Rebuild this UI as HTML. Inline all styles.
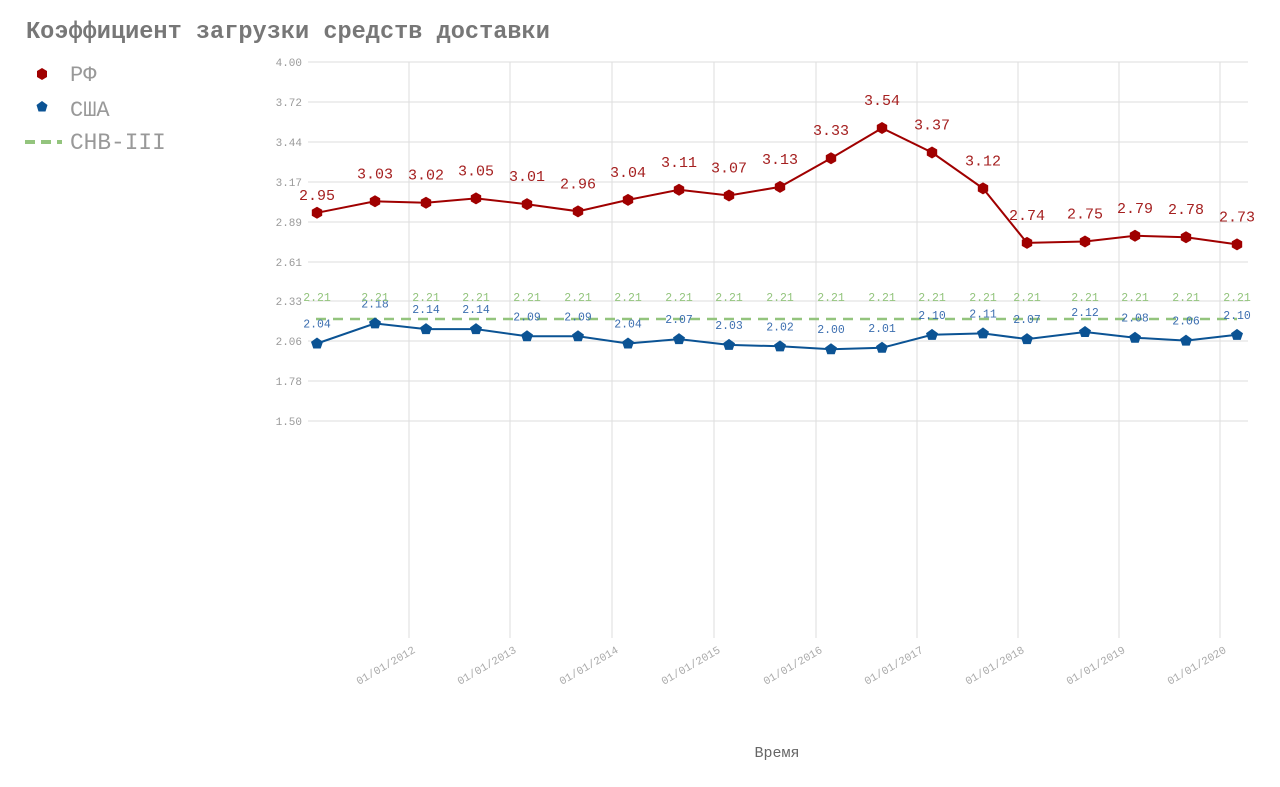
<!DOCTYPE html>
<html><head><meta charset="utf-8"><style>
html,body{margin:0;padding:0;background:#fff;}
svg{display:block;font-family:"Liberation Mono","DejaVu Sans Mono",monospace;}
</style></head><body>
<svg width="1280" height="787" viewBox="0 0 1280 787" xmlns="http://www.w3.org/2000/svg">
<text x="26" y="38" font-size="23.6" font-weight="bold" fill="#777">Коэффициент загрузки средств доставки</text>
<path d="M42,68 l5,3 v6 l-5,3 l-5,-3 v-6z" fill="#a00000"/>
<text x="70" y="81" font-size="22" fill="#999">РФ</text>
<path d="M42,101 l5.5,4 l-2,6.5 h-7 l-2,-6.5z" fill="#0b5394"/>
<text x="70" y="116" font-size="22" fill="#999">США</text>
<line x1="25" y1="142" x2="62" y2="142" stroke="#93c47d" stroke-width="4" stroke-dasharray="10,6"/>
<text x="70" y="149" font-size="22.8" fill="#999">СНВ-III</text>
<g stroke="#ddd" stroke-width="1">
<line x1="308" y1="62" x2="1248" y2="62"/><line x1="308" y1="102" x2="1248" y2="102"/>
<line x1="308" y1="142" x2="1248" y2="142"/><line x1="308" y1="182" x2="1248" y2="182"/>
<line x1="308" y1="222" x2="1248" y2="222"/><line x1="308" y1="262" x2="1248" y2="262"/>
<line x1="308" y1="301" x2="1248" y2="301"/><line x1="308" y1="341" x2="1248" y2="341"/>
<line x1="308" y1="381" x2="1248" y2="381"/><line x1="308" y1="421" x2="1248" y2="421"/>
<line x1="409" y1="62" x2="409" y2="638"/><line x1="510" y1="62" x2="510" y2="638"/>
<line x1="612" y1="62" x2="612" y2="638"/><line x1="714" y1="62" x2="714" y2="638"/>
<line x1="816" y1="62" x2="816" y2="638"/><line x1="917" y1="62" x2="917" y2="638"/>
<line x1="1018" y1="62" x2="1018" y2="638"/><line x1="1119" y1="62" x2="1119" y2="638"/>
<line x1="1220" y1="62" x2="1220" y2="638"/>
</g>
<g font-size="11" fill="#999" text-anchor="end">
<text x="302" y="66">4.00</text><text x="302" y="106">3.72</text><text x="302" y="146">3.44</text>
<text x="302" y="186">3.17</text><text x="302" y="226">2.89</text><text x="302" y="266">2.61</text>
<text x="302" y="305">2.33</text><text x="302" y="345">2.06</text><text x="302" y="385">1.78</text>
<text x="302" y="425">1.50</text>
</g>
<g font-size="11" fill="#aaa" text-anchor="end">
<text transform="translate(416,652) rotate(-30)">01/01/2012</text>
<text transform="translate(517,652) rotate(-30)">01/01/2013</text>
<text transform="translate(619,652) rotate(-30)">01/01/2014</text>
<text transform="translate(721,652) rotate(-30)">01/01/2015</text>
<text transform="translate(823,652) rotate(-30)">01/01/2016</text>
<text transform="translate(924,652) rotate(-30)">01/01/2017</text>
<text transform="translate(1025,652) rotate(-30)">01/01/2018</text>
<text transform="translate(1126,652) rotate(-30)">01/01/2019</text>
<text transform="translate(1227,652) rotate(-30)">01/01/2020</text>
</g>
<text x="777" y="757" font-size="15" fill="#666" text-anchor="middle">Время</text>
<line x1="316" y1="319" x2="1237" y2="319" stroke="#93c47d" stroke-width="2.5" stroke-dasharray="10,7"/>
<g id="plots"></g>
<script>
var xs=[317,375,426,476,527,578,628,679,729,780,831,882,932,983,1027,1085,1135,1186,1237];
var r=[2.95,3.03,3.02,3.05,3.01,2.96,3.04,3.11,3.07,3.13,3.33,3.54,3.37,3.12,2.74,2.75,2.79,2.78,2.73];
var b=[2.04,2.18,2.14,2.14,2.09,2.09,2.04,2.07,2.03,2.02,2.00,2.01,2.10,2.11,2.07,2.12,2.08,2.06,2.10];
function Y(v){return 62+(4-v)*143.6;}
var ns="http://www.w3.org/2000/svg",g=document.getElementById('plots');
function el(t,a,txt){var e=document.createElementNS(ns,t);for(var k in a)e.setAttribute(k,a[k]);if(txt)e.textContent=txt;g.appendChild(e);return e;}
function line(v,c){el('polyline',{points:xs.map(function(x,i){return x+','+Y(v[i]).toFixed(1)}).join(' '),fill:'none',stroke:c,'stroke-width':2});}
line(r,'#a00000');line(b,'#0b5394');
xs.forEach(function(x,i){
 var y=Y(r[i]);
 el('path',{d:'M'+x+','+(y-6)+' l5.2,3 v6 l-5.2,3 l-5.2,-3 v-6z',fill:'#a00000'});
 var ly=(i==0)?y-13:y-23;
 el('text',{x:x,y:ly,'font-size':15,fill:'#a52020','text-anchor':'middle'},r[i].toFixed(2));
 var yb=Y(b[i]);
 el('path',{d:'M'+x+','+(yb-6)+' l6,4.4 l-2.3,6.6 h-7.4 l-2.3,-6.6z',fill:'#0b5394'});
 el('text',{x:x,y:yb-16,'font-size':11.5,fill:'#3d6fb0','text-anchor':'middle'},b[i].toFixed(2));
 el('text',{x:x,y:301,'font-size':11.5,fill:'#93c47d','text-anchor':'middle'},'2.21');
});
</script>
</svg>
</body></html>
